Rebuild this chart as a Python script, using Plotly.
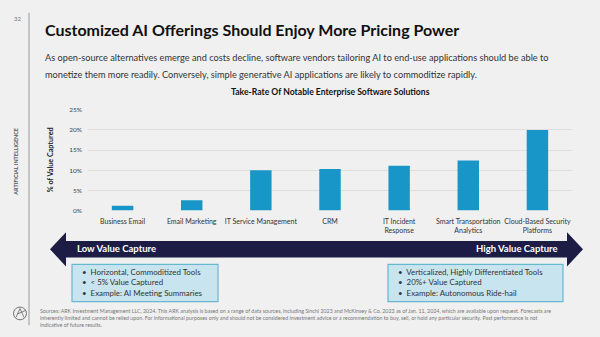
import plotly.graph_objects as go

W, H = 600, 337

# Chart data
categories = [
    "Business Email",
    "Email Marketing",
    "IT Service Management",
    "CRM",
    "IT Incident<br>Response",
    "Smart Transportation<br>Analytics",
    "Cloud-Based Security<br>Platforms",
]
take_rate = [1.2, 2.6, 10.0, 10.3, 11.1, 12.4, 20.0]
y_ticks = [0, 5, 10, 15, 20, 25]
y_tick_labels = ["0%", "5%", "10%", "15%", "20%", "25%"]

low_points = ["Horizontal, Commoditized Tools", "&lt; 5% Value Captured", "Example: AI Meeting Summaries"]
high_points = ["Verticalized, Highly Differentiated Tools", "20%+ Value Captured", "Example: Autonomous Ride-hail"]

title = "Customized AI Offerings Should Enjoy More Pricing Power"
subtitle_lines = [
    "As open-source alternatives emerge and costs decline, software vendors tailoring AI to end-use applications should be able to",
    "monetize them more readily. Conversely, simple generative AI applications are likely to commoditize rapidly.",
]
chart_title = "Take-Rate Of Notable Enterprise Software Solutions"
sources = (
    "Sources: ARK Investment Management LLC, 2024. This ARK analysis is based on a range of data sources, including Sinchi 2023 and McKinsey &amp; Co. 2023 as of Jan. 11, 2024, which are available upon request. Forecasts are<br>"
    "inherently limited and cannot be relied upon. For informational purposes only and should not be considered investment advice or a recommendation to buy, sell, or hold any particular security. Past performance is not<br>"
    "indicative of future results."
)

FONT = "Lato"
BG = "#f0f0f0"
BAR = "#1896c8"
NAVY = "#1d1c45"
BOX_FILL = "#c8e4ee"
BOX_LINE = "#67b7d1"


def px(x):
    return x / W


def py(y):
    return 1 - y / H


fig = go.Figure(
    go.Bar(
        x=categories,
        y=take_rate,
        marker=dict(color=BAR, line=dict(width=0)),
        width=0.31,
        hoverinfo="skip",
    )
)

annotations = []


def text(x, y, s, size, color="#333", bold=False, xanchor="left", yanchor="middle", angle=0, align="left"):
    annotations.append(dict(
        x=px(x), y=py(y), xref="paper", yref="paper",
        text=f"<b>{s}</b>" if bold else s,
        showarrow=False, xanchor=xanchor, yanchor=yanchor, textangle=angle, align=align,
        font=dict(family=FONT, size=size, color=color),
    ))


# Headline block
text(17, 15, "32", 6, color="#777", xanchor="center")
text(43, 26, title, 16, color="#111", bold=True)
for i, line in enumerate(subtitle_lines):
    text(43, 55 + 17 * i, line, 9.2, color="#333")

# Chart labels
text(330, 90, chart_title, 8.6, color="#111", bold=True, xanchor="center")
text(50, 159.5, "% of Value Captured", 7.2, color="#222", bold=True, xanchor="center", angle=-90)
text(16, 161, "ARTIFICIAL INTELLIGENCE", 5.4, color="#555", bold=True, xanchor="center", angle=-90)

# Value-capture arrow labels
text(75, 250, "Low Value Capture", 9.5, color="#ffffff", bold=True)
text(560, 250, "High Value Capture", 9.5, color="#ffffff", bold=True, xanchor="right")

# Bullet boxes
bullet = "•&nbsp;&nbsp;"
text(80, 284.5, "<br>".join(bullet + p for p in low_points), 7.9, color="#333")
text(396, 284.5, "<br>".join(bullet + p for p in high_points), 7.9, color="#333")

# Footnote
annotations.append(dict(
    x=px(38), y=py(308), xref="paper", yref="paper", text=sources, showarrow=False,
    xanchor="left", yanchor="top", align="left",
    font=dict(family=FONT, size=5.3, color="#777"),
))

shapes = []

# Left rule
shapes.append(dict(type="line", xref="paper", yref="paper", x0=px(29), x1=px(29), y0=py(9), y1=py(328),
                   line=dict(color="#9a9a9a", width=1)))

# Double-headed arrow band
arrow_pts = [(50, 250.5), (66, 233), (66, 242), (567, 242), (567, 233), (583, 250.5),
             (567, 268), (567, 259), (66, 259), (66, 268)]
path = "M " + " L ".join(f"{px(x):.5f},{py(y):.5f}" for x, y in arrow_pts) + " Z"
shapes.append(dict(type="path", xref="paper", yref="paper", path=path, fillcolor=NAVY, line=dict(width=0)))

# Boxes
for x0, x1 in [(72, 218), (388, 563)]:
    shapes.append(dict(type="rect", xref="paper", yref="paper", x0=px(x0), x1=px(x1), y0=py(304), y1=py(266),
                       fillcolor=BOX_FILL, line=dict(color=BOX_LINE, width=1.2), layer="below"))

# Logo mark
shapes.append(dict(type="circle", xref="paper", yref="paper", x0=px(13.5), x1=px(26.5), y0=py(322.5), y1=py(309.5),
                   line=dict(color="#666", width=0.9)))
for (xa, ya, xb, yb) in [(16, 320, 20, 311), (20, 311, 24, 320), (17.5, 316.5, 25.5, 313)]:
    shapes.append(dict(type="line", xref="paper", yref="paper", x0=px(xa), y0=py(ya), x1=px(xb), y1=py(yb),
                       line=dict(color="#666", width=0.8)))

fig.update_layout(
    width=W, height=H,
    margin=dict(l=0, r=0, t=0, b=0),
    paper_bgcolor=BG, plot_bgcolor=BG,
    showlegend=False,
    font=dict(family=FONT),
    annotations=annotations,
    shapes=shapes,
    xaxis=dict(
        domain=[px(88), px(572)],
        tickfont=dict(family=FONT, size=7, color="#333"),
        showgrid=False, showline=False, ticks="", zeroline=False,
        ticklabelstandoff=5,
        fixedrange=True,
    ),
    yaxis=dict(
        domain=[py(211), py(108)],
        range=[0, 25],
        tickvals=y_ticks, ticktext=y_tick_labels,
        tickfont=dict(family=FONT, size=6.5, color="#444"),
        showgrid=True, gridcolor="#dedede", gridwidth=1,
        zeroline=False, showline=False, ticks="",
        ticklabelstandoff=5,
        fixedrange=True,
    ),
)

fig.write_html("out.html")
